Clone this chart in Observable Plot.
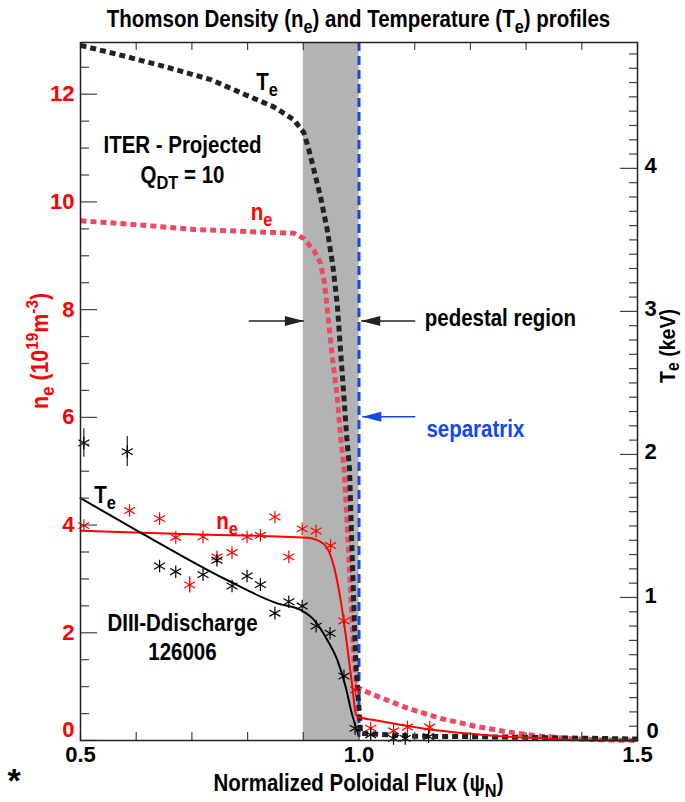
<!DOCTYPE html>
<html><head><meta charset="utf-8">
<script src="https://cdn.jsdelivr.net/npm/d3@7"></script>
<script src="https://cdn.jsdelivr.net/npm/@observablehq/plot@0.6"></script>
<style>body{margin:0;background:#fff;}</style>
</head><body><div id="chart"></div>
<script>
// ---------------- data ----------------
// ITER projected profiles (dotted)
const iterTePsi = [0.500,0.584,0.662,0.734,0.799,0.847,0.883,0.901,0.910,0.919,0.931,0.943,0.953,0.961,0.967,0.973,0.978,0.983,0.986,0.990,0.994,0.999,1.003,1.10,1.20,1.30,1.40,1.50];
const iterTe    = [4.86,4.78,4.70,4.62,4.51,4.43,4.34,4.25,4.13,3.99,3.80,3.57,3.32,3.05,2.72,2.40,2.12,1.90,1.50,1.03,0.56,0.28,0.05,0.030,0.027,0.022,0.016,0.010];
const iterNePsi = [0.500,0.584,0.703,0.823,0.883,0.901,0.919,0.931,0.938,0.944,0.952,0.961,0.967,0.973,0.979,0.985,0.991,0.997,1.027,1.087,1.146,1.206,1.266,1.326,1.386,1.446,1.500];
const iterNe    = [9.65,9.59,9.49,9.44,9.42,9.32,9.10,8.86,8.50,7.93,7.12,6.38,5.64,5.08,3.97,2.73,1.49,0.98,0.845,0.60,0.41,0.27,0.16,0.08,0.03,0.01,0.0];
// DIII-D fits (solid)
const fitTePsi = [0.500,0.614,0.763,0.853,0.895,0.919,0.943,0.961,0.976,0.987,0.996,1.000];
const fitTe    = [1.694,1.44,1.122,0.959,0.913,0.843,0.703,0.563,0.376,0.19,0.073,0.03];
const fitNePsi = [0.500,0.700,0.907,0.925,0.943,0.955,0.967,0.979,0.988,0.994,0.997,1.027,1.087,1.146,1.206,1.266,1.326,1.386,1.450,1.500];
const fitNe    = [3.895,3.83,3.765,3.72,3.57,3.23,2.61,1.74,1.00,0.50,0.44,0.38,0.27,0.18,0.12,0.07,0.04,0.01,0.0,0.0];
// DIII-D Thomson measurements (asterisks)
const measNePsi = [0.506,0.588,0.642,0.671,0.696,0.720,0.745,0.772,0.799,0.823,0.849,0.874,0.898,0.923,0.949,0.973,0.994,1.021,1.062,1.087,1.127];
const measNe    = [3.99,4.27,4.12,3.77,2.89,3.78,3.41,3.49,3.78,3.81,4.15,3.41,3.93,3.89,3.62,2.22,0.94,0.23,0.18,0.25,0.25];
const measTePsi = [0.506,0.584,0.642,0.671,0.720,0.745,0.772,0.799,0.823,0.849,0.874,0.898,0.923,0.948,0.973,0.993,1.021,1.062,1.083,1.125];
const measTe    = [2.08,2.02,1.22,1.18,1.16,1.26,1.08,1.15,1.09,0.89,0.97,0.94,0.80,0.75,0.45,0.085,0.04,0.015,0.015,0.027];
// error bars
const errPsi  = [0.506,0.584,0.696];
const errVal  = [2.08,2.02,2.89];
const errHalf = [0.10,0.105,0.15];
const errKind = ["Te","Te","ne"];
// regions
const pedestalBand = [{x1:0.9, x2:1.0}];
const separatrix = [1.0];
// tick labels
const xTickLabels = [0.5,1.0,1.5];
const neTickLabels = [0,2,4,6,8,10,12];
const teTickLabels = [0,1,2,3,4];

// ---------------- layout ----------------
const FONT = "'Liberation Sans',Arial,sans-serif";
const NARROW = 0.89;
const W=685,H=802,ML=80,MR=48,MT=42,MB=62;
const PW=W-ML-MR, PH=H-MT-MB;
const NE_MAX=12.96, TE_MAX=4.88, K=NE_MAX/TE_MAX;
const XMIN=0.5, XMAX=1.5;
const pxX = (XMAX-XMIN)/PW, pxY = NE_MAX/PH;
const RED="#ff0000", PINK="#ec4a62", DARK="#222222", BLUE="#1446f0", GRAY="#b3b3b3";

const iterTeData = iterTePsi.map((p,i)=>({psi:p, y:iterTe[i]*K}));
const iterNeData = iterNePsi.map((p,i)=>({psi:p, y:iterNe[i]}));
const fitTeData = fitTePsi.map((p,i)=>({psi:p, y:fitTe[i]*K}));
const fitNeData = fitNePsi.map((p,i)=>({psi:p, y:fitNe[i]}));
const measNeData = measNePsi.map((p,i)=>({psi:p, y:measNe[i]}));
const measTeData = measTePsi.map((p,i)=>({psi:p, y:measTe[i]*K}));
const errData = errPsi.map((p,i)=>{const k = errKind[i]==="Te"?K:1; return {psi:p, y1:(errVal[i]-errHalf[i])*k, y2:(errVal[i]+errHalf[i])*k, c: errKind[i]==="Te"?DARK:RED};});

const xTicks = d3.range(0,11).map(i=>+(0.5+i*0.1).toFixed(2));
const neMinor = d3.range(0,27).map(i=>i*0.5).filter(v=>v%2!==0 && v<=NE_MAX);
const teMajorY = teTickLabels.map(v=>v*K);
const teMinorY = d3.range(0,49).map(i=>i/10).filter(v=>Math.abs(v-Math.round(v))>1e-6).map(v=>v*K);

const arrows = [
  {x1:0.802, x2:0.901, y:7.79, c:DARK},
  {x1:1.101, x2:1.004, y:7.79, c:DARK},
  {x1:1.101, x2:1.006, y:6.01, c:BLUE}
];
const arrowHead = {draw(ctx){ ctx.moveTo(0,0); ctx.lineTo(-19,-5); ctx.lineTo(-19,5); ctx.closePath(); }};

const tickStyle = {stroke:"#444", strokeWidth:1.2};
const dotted = {strokeWidth:5, strokeDasharray:"6,4", strokeLinecap:"butt", strokeLinejoin:"miter", curve:"linear"};
const labelFont = {fontSize:22, fontWeight:"bold"};
const plot = Plot.plot({
  width:W, height:H, marginLeft:ML, marginRight:MR, marginTop:MT, marginBottom:MB,
  x:{domain:[XMIN,XMAX], axis:null},
  y:{domain:[0,NE_MAX], axis:null},
  style:{fontFamily:FONT, background:"#fff"},
  marks:[
    Plot.rect(pedestalBand,{x1:"x1", x2:"x2", fill:GRAY}),
    Plot.ruleX(separatrix,{x:d=>d, stroke:BLUE, strokeWidth:3, strokeDasharray:"9,5"}),
    Plot.line(iterNeData,{x:"psi", y:"y", stroke:PINK, ...dotted}),
    Plot.line(iterTeData,{x:"psi", y:"y", stroke:DARK, ...dotted}),
    Plot.line(fitNeData,{x:"psi", y:"y", stroke:RED, strokeWidth:2, curve:"monotone-x"}),
    Plot.line(fitTeData,{x:"psi", y:"y", stroke:"#000", strokeWidth:2, curve:"monotone-x"}),
    Plot.ruleX(errData,{x:"psi", y1:"y1", y2:"y2", stroke:"c", strokeWidth:1.2}),
    Plot.dot(measNeData,{x:"psi", y:"y", symbol:"asterisk", r:6, stroke:RED, strokeWidth:1.2}),
    Plot.dot(measTeData,{x:"psi", y:"y", symbol:"asterisk", r:6, stroke:"#000", strokeWidth:1.2}),
    // inward ticks
    Plot.ruleY(neTickLabels,{y:d=>d, x1:XMIN, x2:XMIN+17*pxX, ...tickStyle}),
    Plot.ruleY(neMinor,{y:d=>d, x1:XMIN, x2:XMIN+9*pxX, ...tickStyle}),
    Plot.ruleY(teMajorY,{y:d=>d, x1:XMAX-17*pxX, x2:XMAX, ...tickStyle}),
    Plot.ruleY(teMinorY,{y:d=>d, x1:XMAX-8*pxX, x2:XMAX, ...tickStyle}),
    Plot.ruleX(xTicks,{x:d=>d, y1:0, y2:8*pxY, ...tickStyle}),
    Plot.ruleX(xTicks,{x:d=>d, y1:NE_MAX-8*pxY, y2:NE_MAX, ...tickStyle}),
    Plot.frame({stroke:"#222", strokeWidth:1.5}),
    // tick labels
    Plot.text(neTickLabels.filter(v=>v>0),{y:d=>d, text:d=>String(d), frameAnchor:"left", dx:-6, textAnchor:"end", fill:RED, ...labelFont}),
    Plot.text(neTickLabels.filter(v=>v===0),{y:d=>d, text:d=>String(d), frameAnchor:"left", dx:-6, dy:-11, textAnchor:"end", fill:RED, ...labelFont}),
    Plot.text(teTickLabels.filter(v=>v>0),{y:d=>d*K, text:d=>String(d), frameAnchor:"right", dx:7, dy:-2, textAnchor:"start", fill:"#000", ...labelFont}),
    Plot.text(teTickLabels.filter(v=>v===0),{y:d=>d*K, text:d=>String(d), frameAnchor:"right", dx:9, dy:-10, textAnchor:"start", fill:"#000", ...labelFont}),
    Plot.text(xTickLabels,{x:d=>d, text:d=>d.toFixed(1), frameAnchor:"bottom", dy:21, fill:"#000", ...labelFont}),
    // arrows
    Plot.link(arrows,{x1:"x1", x2:"x2", y1:"y", y2:"y", stroke:"c", strokeWidth:1.6}),
    Plot.dot(arrows,{x:"x2", y:"y", symbol:arrowHead, rotate:d=>d.x2>d.x1?0:180, fill:"c", stroke:"none"})
  ]
});
document.getElementById("chart").appendChild(plot);

// ---------------- rich text labels ----------------
const svg = d3.select(plot);
const sx = v=>plot.scale("x").apply(v), sy = v=>plot.scale("y").apply(v);
function rich(x, y, parts, {size=23, color="#000", anchor="middle", rotate=0, narrow=NARROW, subShift=0.26}={}){
  const g = svg.append("g").attr("transform",`translate(${x},${y}) rotate(${rotate}) scale(${narrow},1)`);
  const t = g.append("text").attr("x",0).attr("y",0).attr("text-anchor",anchor)
    .attr("font-family",FONT).attr("font-weight","bold").attr("font-size",size).attr("fill",color);
  let shift = 0;
  for (const [s, kind] of parts){
    let target = 0, fs = size;
    if (kind==="sub"){ target = size*subShift; fs = size*0.8; }
    if (kind==="sup"){ target = -size*0.42; fs = size*0.72; }
    t.append("tspan").attr("dy", target-shift).attr("font-size",fs).text(s);
    shift = target;
  }
}
// title & axis titles
rich(ML+PW/2, 27, [["Thomson Density (n"],["e","sub"],[") and Temperature (T"],["e","sub"],[") profiles"]], {size:23});
rich(ML+PW/2, 791, [["Normalized Poloidal Flux ("],["ψ"],["N","sub"],[")"]], {size:23});
rich(48, MT+PH/2-40, [["n"],["e","sub"],[" (10"],["19","sup"],["m"],["-3","sup"],[")"]], {size:24, color:RED, rotate:-90});
rich(675, MT+PH/2-45, [["T"],["e","sub"],[" (keV)"]], {size:22, rotate:-90, subShift:0.18});
// annotations (data coordinates, baseline)
rich(sx(0.836), sy(12.07), [["T"],["e","sub"]]);
rich(sx(0.684), sy(10.89), [["ITER - Projected"]]);
rich(sx(0.684), sy(10.34), [["Q"],["DT","sub"],[" = 10"]]);
rich(sx(0.826), sy(9.66), [["n"],["e","sub"]], {color:RED});
rich(sx(0.545), sy(4.40), [["T"],["e","sub"]]);
rich(sx(0.764), sy(3.91), [["n"],["e","sub"]], {color:RED});
rich(sx(0.684), sy(2.02), [["DIII-Ddischarge"]]);
rich(sx(0.684), sy(1.49), [["126006"]]);
rich(sx(1.119), sy(7.68), [["pedestal region"]], {anchor:"start"});
rich(sx(1.122), sy(5.62), [["separatrix"]], {anchor:"start", color:BLUE});
rich(14, 792, [["*"]], {size:34, narrow:1});
</script></body></html>
